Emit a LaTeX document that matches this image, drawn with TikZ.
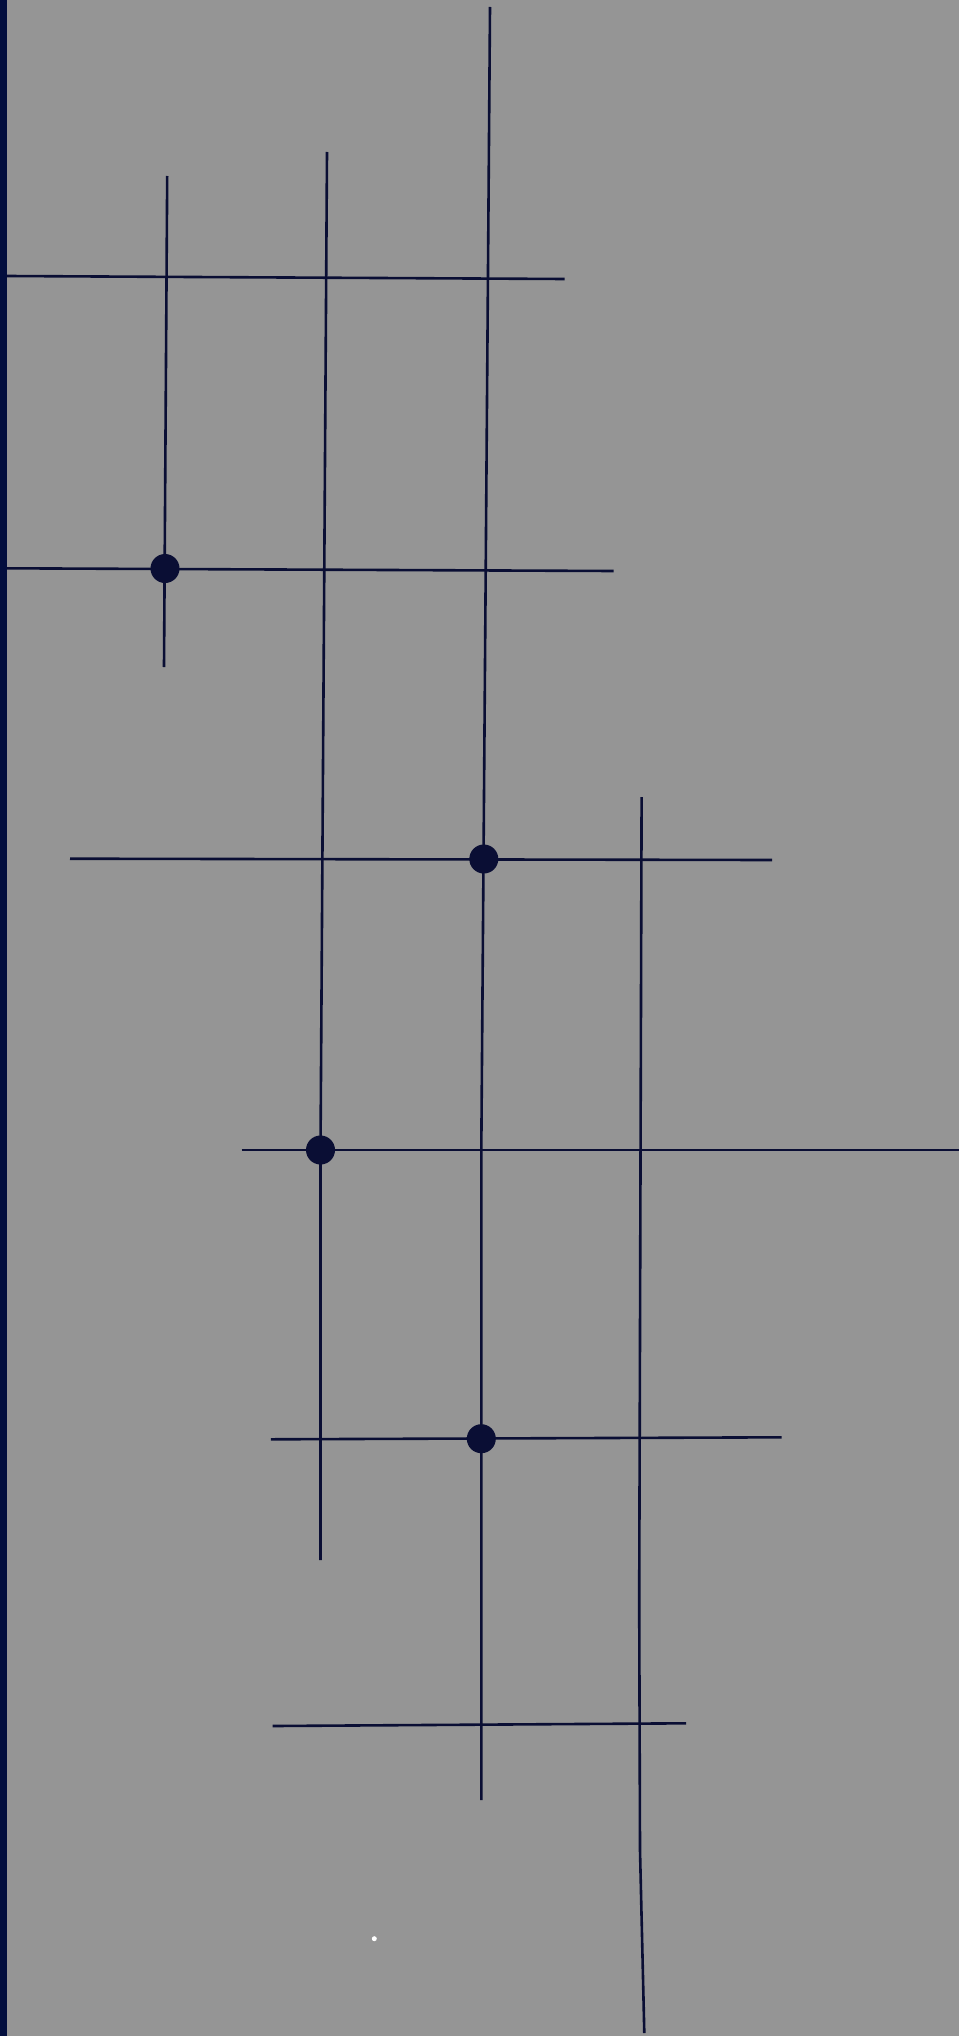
\documentclass[tikz,border=0pt]{standalone}
\definecolor{bg}{RGB}{149,149,149}
\definecolor{ink}{RGB}{10,14,52}
\definecolor{edge}{RGB}{2,14,62}
\tikzset{
  wire/.style={draw=ink, line width=2.6pt, line cap=butt},
  ctrl/.style={circle, fill=ink, inner sep=0pt, minimum size=29pt},
  speck/.style={circle, fill=white, inner sep=0pt, minimum size=5pt}
}
\begin{document}
\begin{tikzpicture}[x=1pt,y=-1pt]
\fill[bg] (0,0) rectangle (959,2036);
\useasboundingbox (0,0) rectangle (959,2036);
\fill[edge] (0,0) rectangle (6.5,2036);
% horizontal wires
\coordinate (h1a) at (7,276);    \coordinate (h1b) at (564.5,279);
\coordinate (h2a) at (7,568.3);  \coordinate (h2b) at (613.5,571);
\coordinate (h3a) at (70,858.7); \coordinate (h3b) at (772,860);
\coordinate (h4a) at (241.6,1150); \coordinate (h4b) at (959,1150);
\coordinate (h5a) at (270.8,1439.3); \coordinate (h5b) at (781.7,1437.3);
\coordinate (h6a) at (272.7,1726); \coordinate (h6b) at (686,1723.3);
\draw[wire] (h1a) -- (h1b);
\draw[wire] (h2a) -- (h2b);
\draw[wire] (h3a) -- (h3b);
\draw[wire] (h4a) -- (h4b);
\draw[wire] (h5a) -- (h5b);
\draw[wire] (h6a) -- (h6b);
% vertical wires
\coordinate (v1a) at (167.2,176); \coordinate (v1b) at (164,667);
\coordinate (v2a) at (327,152); \coordinate (v2m) at (320.5,1150); \coordinate (v2b) at (320.5,1560);
\coordinate (v3a) at (490,7); \coordinate (v3m) at (481.3,1150); \coordinate (v3b) at (481.4,1800);
\coordinate (v4a) at (641.6,797); \coordinate (v4m) at (639.2,1600); \coordinate (v4n) at (640,1850); \coordinate (v4b) at (644.3,2033);
\draw[wire] (v1a) -- (v1b);
\draw[wire] (v2a) -- (v2m) -- (v2b);
\draw[wire] (v3a) -- (v3m) -- (v3b);
\draw[wire] (v4a) -- (v4m) -- (v4n) -- (v4b);
% control dots
\node[ctrl] (d1) at (165,568.5) {};
\node[ctrl] (d2) at (483.8,859) {};
\node[ctrl] (d3) at (320.5,1150) {};
\node[ctrl] (d4) at (481.3,1438.7) {};
% speck
\node[speck] (s1) at (374.3,1938.7) {};
\end{tikzpicture}
\end{document}
